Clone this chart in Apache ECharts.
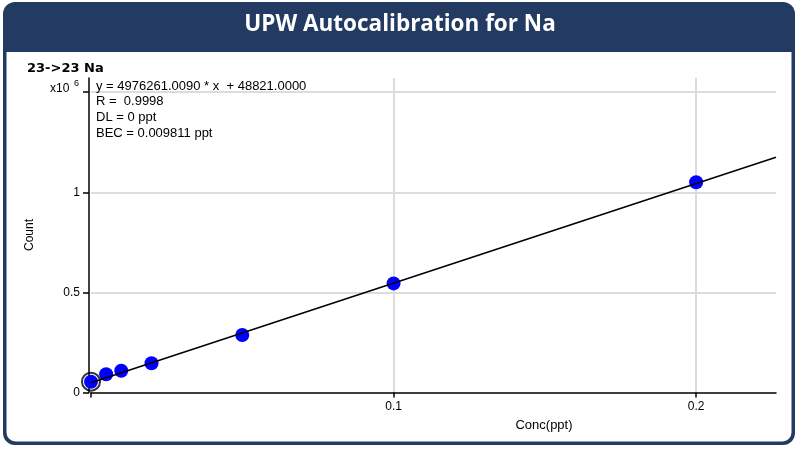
<!DOCTYPE html>
<html>
<head>
<meta charset="utf-8">
<script src="https://cdn.jsdelivr.net/npm/echarts@6/dist/echarts.min.js"></script>
<style>
html,body{margin:0;padding:0;background:#fff;}
#chart{width:800px;height:451px;}
</style>
</head>
<body>
<div id="chart"></div>
<script>
// ---- data ----
const concPpt = [0, 0.005, 0.01, 0.02, 0.05, 0.1, 0.2];
const countValues = [54000, 91000, 109000, 146000, 287000, 545000, 1050000];
const blankConc = [0];
const blankCount = [54000];
const fitConc = [0, 0.2264];
const fitCount = [48821, 1175446];
const xTickValues = [0, 0.1, 0.2];
const xLabelValues = [0.1, 0.2];
const yTickValues = [0, 500000, 1000000, 1500000];
const yLabelValues = [0, 500000, 1000000];
const xGridValues = [0.1, 0.2];
const yGridValues = [500000, 1000000, 1500000];
const titleText = 'UPW Autocalibration for Na';
const panelTitle = '23->23 Na';
const eqLines = ['y = 4976261.0090 * x  + 48821.0000', 'R =  0.9998', 'DL = 0 ppt', 'BEC = 0.009811 ppt'];

const chart = echarts.init(document.getElementById('chart'), null, {renderer: 'canvas'});
const baseFont = '"Liberation Sans", Arial, sans-serif';
const navy = '#233a62';

const graphics = [
  {type: 'rect', z: -10, shape: {x: 3, y: 2, width: 792, height: 443, r: 12}, style: {fill: navy}},
  {type: 'rect', z: -9, shape: {x: 6.5, y: 52, width: 785, height: 389.5, r: [0, 0, 9, 9]}, style: {fill: '#ffffff'}},
  {type: 'text', z: 10, style: {text: titleText, x: 400, y: 25, textAlign: 'center', textVerticalAlign: 'middle', align: 'center', verticalAlign: 'middle', font: 'bold 22.5px "Open Sans", sans-serif', fill: '#ffffff'}},
  {type: 'text', z: 10, style: {text: panelTitle, x: 27, y: 69, textVerticalAlign: 'middle', verticalAlign: 'middle', font: 'bold 13px "DejaVu Sans", sans-serif', fill: '#000'}},
  {type: 'text', z: 10, style: {text: 'x10', x: 50, y: 89, textVerticalAlign: 'middle', verticalAlign: 'middle', font: '12px ' + baseFont, fill: '#000'}},
  {type: 'text', z: 10, style: {text: '6', x: 74, y: 84, textVerticalAlign: 'middle', verticalAlign: 'middle', font: '9px ' + baseFont, fill: '#000'}},
  {type: 'text', z: 10, x: 30, y: 235, rotation: Math.PI / 2, style: {text: 'Count', x: 0, y: 0, textAlign: 'center', textVerticalAlign: 'middle', align: 'center', verticalAlign: 'middle', font: '12px ' + baseFont, fill: '#000'}},
  {type: 'text', z: 10, style: {text: 'Conc(ppt)', x: 544, y: 425, textAlign: 'center', textVerticalAlign: 'middle', align: 'center', verticalAlign: 'middle', font: '13px ' + baseFont, fill: '#000'}}
];
const eqY = [86, 101, 117, 133];
eqLines.forEach((t, i) => graphics.push({type: 'text', z: 10, style: {text: t, x: 96, y: eqY[i], textVerticalAlign: 'middle', verticalAlign: 'middle', font: '13px ' + baseFont, fill: '#000'}}));

const gridMarks = xGridValues.map(v => ({xAxis: v})).concat(yGridValues.map(v => ({yAxis: v})));

chart.setOption({
  animation: false,
  backgroundColor: '#ffffff',
  graphic: graphics,
  grid: {left: 91, right: 24, top: 78, bottom: 58.5, containLabel: false},
  xAxis: {
    type: 'value', min: 0, max: 0.2264,
    axisLine: {show: true, onZero: false, lineStyle: {color: '#000', width: 1.5}},
    axisTick: {show: true, length: 5, customValues: xTickValues, lineStyle: {color: '#000', width: 1.5}},
    axisLabel: {customValues: xLabelValues, margin: 8, color: '#000', fontSize: 12, fontFamily: baseFont},
    splitLine: {show: false}
  },
  yAxis: {
    type: 'value', min: 0, max: 1571000, offset: 2,
    axisLine: {show: true, onZero: false, lineStyle: {color: '#000', width: 1.5}},
    axisTick: {show: true, length: 6, customValues: yTickValues, lineStyle: {color: '#000', width: 1.5}},
    axisLabel: {customValues: yLabelValues, margin: 9, color: '#000', fontSize: 12, fontFamily: baseFont,
      formatter: v => String(v / 1e6)},
    splitLine: {show: false}
  },
  series: [
    {
      type: 'line', data: [], z: 0, silent: true,
      markLine: {z: 0, silent: true, symbol: ['none', 'none'], label: {show: false},
        lineStyle: {color: '#dcdcdc', width: 2, type: 'solid'}, data: gridMarks, animation: false}
    },
    {
      type: 'scatter', z: 3, symbol: 'circle', symbolSize: 14,
      itemStyle: {color: '#0000ff', opacity: 1},
      data: concPpt.map((x, i) => [x, countValues[i]])
    },
    {
      type: 'line', z: 4, silent: true, symbol: 'none',
      lineStyle: {color: '#000', width: 1.5},
      data: fitConc.map((x, i) => [x, fitCount[i]])
    },
    {
      type: 'scatter', z: 5, symbol: 'circle', symbolSize: 18,
      itemStyle: {color: 'rgba(0,0,0,0)', borderColor: '#000', borderWidth: 2},
      data: blankConc.map((x, i) => [x, blankCount[i]])
    }
  ]
});
</script>
</body>
</html>
